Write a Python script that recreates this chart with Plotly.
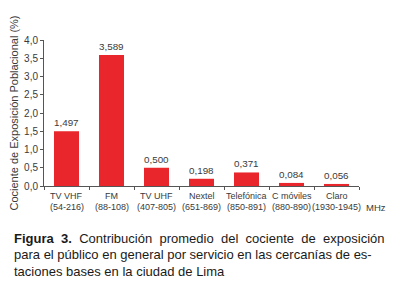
import plotly.graph_objects as go

services = ["TV VHF", "FM", "TV UHF", "Nextel", "Telefónica", "C móviles", "Claro"]
bands = ["(54-216)", "(88-108)", "(407-805)", "(651-869)", "(850-891)", "(880-890)", "(1930-1945)"]
values = [1.497, 3.589, 0.500, 0.198, 0.371, 0.084, 0.056]
value_labels = ["1,497", "3,589", "0,500", "0,198", "0,371", "0,084", "0,056"]
y_ticks = [0, 0.5, 1.0, 1.5, 2.0, 2.5, 3.0, 3.5, 4.0]
y_tick_labels = ["0,0", "0,5", "1,0", "1,5", "2,0", "2,5", "3,0", "3,5", "4,0"]

txt = "#3a3a3a"
font = "Liberation Sans, Arial, sans-serif"

# the page body has an 8px default margin; work in page pixels and convert
OFF = 8
W, HT = 400 - OFF, 291 - OFF
L, R, T, B = 44 - OFF, 359 - OFF, 40 - OFF, 186 - OFF
H = B - T


def py(ypage):
    return (B - (ypage - OFF)) / H


def px(xpage):
    return ((xpage - OFF) - L) / (R - L)


fig = go.Figure()
fig.add_trace(go.Bar(
    x=services, y=values, text=value_labels, textposition="outside",
    textfont=dict(size=10, color=txt, family=font),
    marker=dict(color="#E8262B", line=dict(width=0)),
    width=0.556, cliponaxis=False,
))

fig.update_layout(
    width=W, height=HT,
    margin=dict(l=L, r=W - R, t=T, b=HT - B, autoexpand=False),
    paper_bgcolor="white", plot_bgcolor="white",
    showlegend=False,
    font=dict(family=font, color=txt),
)
fig.update_xaxes(
    type="category", range=[-0.5, 6.5], automargin=False,
    showline=True, linecolor="#555", linewidth=1,
    ticks="outside", tickson="boundaries", ticklen=3, tickcolor="#555",
    showticklabels=False,
    showgrid=False,
)
fig.update_yaxes(
    range=[0, 4.0], tickvals=y_ticks, ticktext=y_tick_labels, automargin=False,
    showline=True, linecolor="#555", linewidth=1,
    ticks="outside", ticklen=3, tickcolor="#555",
    tickfont=dict(size=10, color=txt, family=font),
    showgrid=False, zeroline=False,
    title=dict(text="Cociente de Exposición Poblacional (%)",
               font=dict(size=11, color=txt, family=font), standoff=4),
)

# two-line category labels
for s, b in zip(services, bands):
    fig.add_annotation(text=s, x=s, xref="x", y=py(196), yref="paper",
                       yanchor="middle", showarrow=False,
                       font=dict(size=9, color=txt, family=font))
    fig.add_annotation(text=b, x=s, xref="x", y=py(207), yref="paper",
                       yanchor="middle", showarrow=False,
                       font=dict(size=9, color=txt, family=font))

fig.add_annotation(text="MHz", x=1.0, xref="paper", xanchor="left", xshift=5,
                   y=py(207), yref="paper", yanchor="middle", showarrow=False,
                   font=dict(size=9.5, color=txt, family=font))

gap = "\u2009\u200a"
caption = [
    "<b>Figura" + gap + " 3.</b>" + gap + " Contribución" + gap + " promedio" + gap + " del" + gap
    + " cociente" + gap + " de" + gap + " exposición",
    "para el público en general por servicio en las cercanías de es-",
    "taciones bases en la ciudad de Lima",
]
for i, line in enumerate(caption):
    ypage = 239 + i * 16
    fig.add_annotation(text=line, x=px(12), xref="paper", xanchor="left",
                       y=py(ypage), yref="paper", yanchor="middle",
                       showarrow=False,
                       font=dict(size=13, color="#1a1a1a", family=font))

fig.write_html("out.html")
